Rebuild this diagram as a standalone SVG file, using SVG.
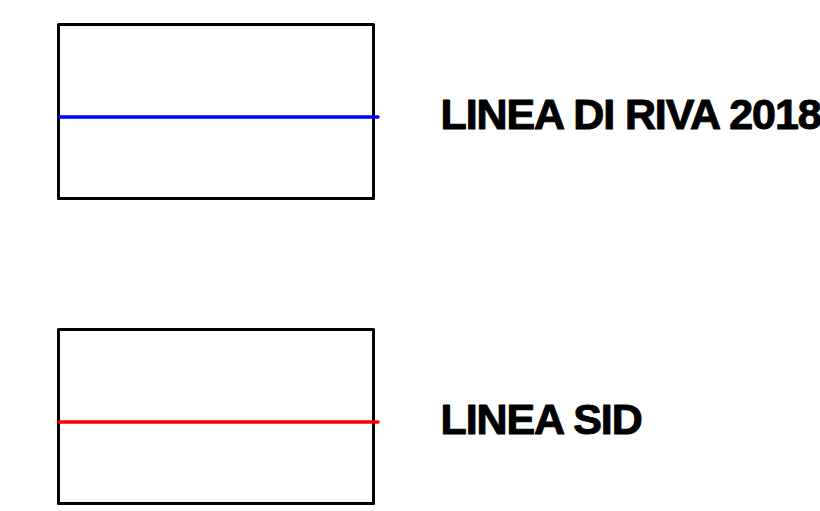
<svg xmlns="http://www.w3.org/2000/svg" width="820" height="511" viewBox="0 0 820 511">
<style>
.box{fill:none;stroke:#000;stroke-width:3;stroke-linejoin:round}
.lbl{font-family:"Liberation Sans",Arial,sans-serif;font-weight:bold;font-size:43px;letter-spacing:-1.1px;fill:#000;stroke:#000;stroke-width:1;stroke-linejoin:round}
.ln{stroke-width:3.5;stroke-linecap:round;fill:none}
</style>
<rect width="820" height="511" fill="#fff"/>
<g id="legend-riva">
<rect class="box" x="58.5" y="24.5" width="315" height="174"/>
<line class="ln" x1="59" y1="117" x2="378" y2="117" stroke="#0000ff"/>
<text class="lbl" x="440.5" y="128.5">LINEA DI RIVA 2018</text>
</g>
<g id="legend-sid">
<rect class="box" x="58.5" y="329.5" width="315" height="174"/>
<line class="ln" x1="59" y1="422" x2="378" y2="422" stroke="#ff0000"/>
<text class="lbl" x="440.5" y="434">LINEA SID</text>
</g>
</svg>
